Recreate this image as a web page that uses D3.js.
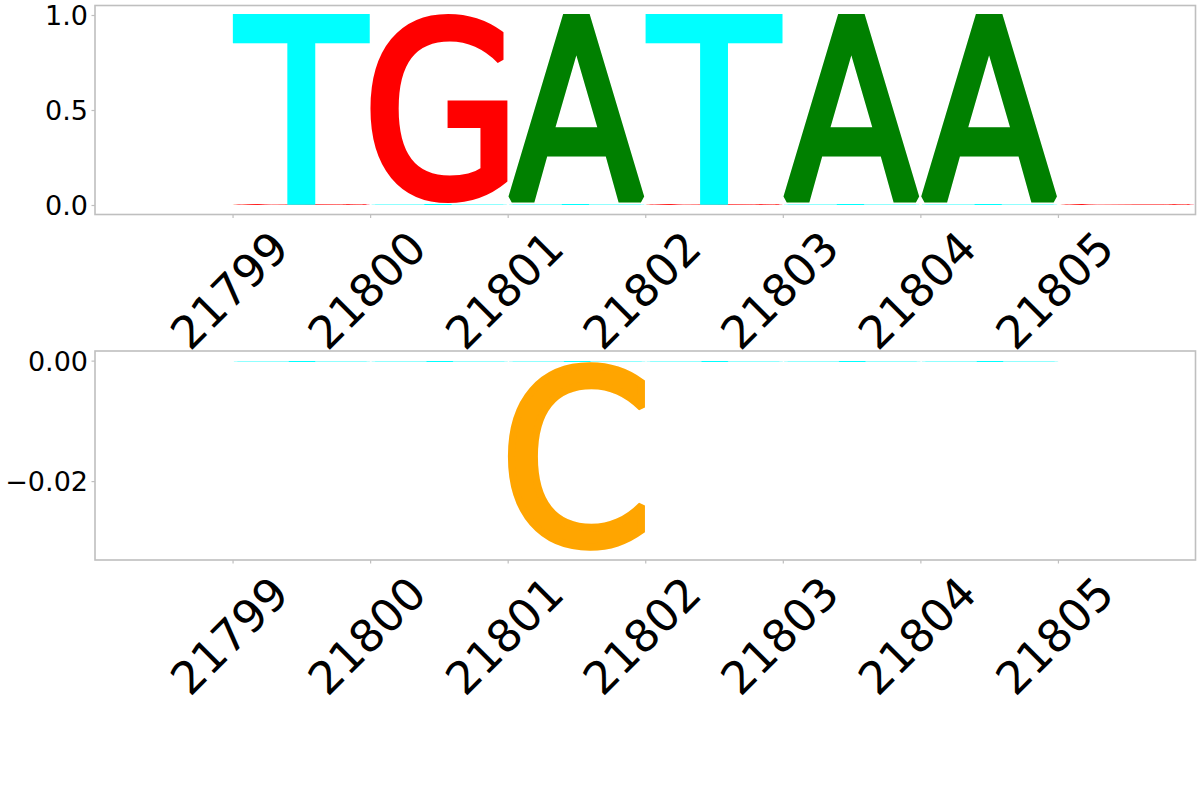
<!DOCTYPE html>
<html>
<head>
<meta charset="utf-8">
<script src="https://cdn.jsdelivr.net/npm/d3@7"></script>
<style>
  html, body { margin: 0; padding: 0; background: #fff; }
  svg { display: block; }
</style>
</head>
<body>
<svg id="chart" width="1200" height="800"></svg>
<script>
// ---- data ----
const positions = [21799, 21800, 21801, 21802, 21803, 21804, 21805];
const letters = ["A", "C", "G", "T"];
const letterColors = ["#008000", "#ffa500", "#ff0000", "#00ffff"];

// top panel (positive weights)
const topA = [0, 0, 1.0, 0, 1.0, 1.0, 0];
const topC = [0, 0, 0, 0, 0, 0, 0];
const topG = [0.005, 1.0, 0, 0.005, 0, 0, 0.003];
const topT = [1.0, 0.005, 0.005, 1.0, 0.005, 0.005, 0];

// bottom panel (negative weights)
const botA = [0, 0, 0, 0, 0, 0, 0];
const botC = [0, 0, -0.0315, 0, 0, 0, 0];
const botG = [-0.00008, -0.00008, -0.00008, -0.00008, -0.00008, -0.00008, -0.00008];
const botT = [-0.00012, -0.00012, -0.00012, -0.00012, -0.00012, -0.00012, 0];

const topYTicks = [0.0, 0.5, 1.0];
const botYTicks = [0.0, -0.02];
const xTickLabels = ["21799", "21800", "21801", "21802", "21803", "21804", "21805"];

// ---- layout ----
const svg = d3.select("#chart");
const W = 1200, H = 800;
svg.append("rect").attr("width", W).attr("height", H).attr("fill", "#fff");

const axL = 95, axR = 1195.5;
const panels = [
  { top: 5.5, bottom: 214.5, domain: [-0.05, 1.05], series: [topA, topC, topG, topT], ticks: topYTicks, fmt: d3.format(".1f") },
  { top: 351, bottom: 560, domain: [-0.0331, 0.0016], series: [botA, botC, botG, botT], ticks: botYTicks, fmt: d3.format(".2f") }
];

const x = d3.scaleLinear().domain([21798, 21806]).range([axL, axR]);

// glyph metrics
const cvs = document.createElement("canvas");
const ctx = cvs.getContext("2d");
const GFS = 200;
ctx.font = `${GFS}px "DejaVu Sans"`;
const metrics = {};
letters.forEach(ch => {
  const m = ctx.measureText(ch);
  metrics[ch] = { L: m.actualBoundingBoxLeft, R: m.actualBoundingBoxRight, A: m.actualBoundingBoxAscent, D: m.actualBoundingBoxDescent };
});

const THICK = 7; // extra stroke weight in screen px
function drawGlyph(g, ch, color, x0, x1, yTop, yBot) {
  const m = metrics[ch];
  const w = x1 - x0, h = yBot - yTop;
  if (!(h > 0)) return;
  const inkW = m.L + m.R, inkH = m.A + m.D;
  const sx = (w - THICK) / inkW;
  const s = THICK / sx;              // stroke width in glyph units
  const sy = h / (inkH + s);
  g.append("text")
    .text(ch)
    .attr("font-family", "DejaVu Sans")
    .attr("font-size", GFS)
    .attr("fill", color)
    .attr("stroke", color)
    .attr("stroke-width", s)
    .attr("stroke-linejoin", "miter")
    .attr("stroke-miterlimit", 1.5)
    .attr("transform", `translate(${x0},${yTop}) scale(${sx},${sy}) translate(${m.L + s / 2},${m.A + s / 2})`);
}

panels.forEach((p, pi) => {
  const y = d3.scaleLinear().domain(p.domain).range([p.bottom, p.top]);
  const g = svg.append("g");
  // background (covers overlapping labels from panel above)
  g.append("rect").attr("x", axL).attr("y", p.top).attr("width", axR - axL).attr("height", p.bottom - p.top).attr("fill", "#fff");

  const clipId = "clip" + pi;
  g.append("clipPath").attr("id", clipId).append("rect")
    .attr("x", axL).attr("y", p.top).attr("width", axR - axL).attr("height", p.bottom - p.top);
  const glyphs = g.append("g").attr("clip-path", `url(#${clipId})`);

  positions.forEach((pos, i) => {
    const vals = letters.map((ch, k) => ({ ch, color: letterColors[k], v: p.series[k][i] }));
    // positive: small at bottom, big on top
    const pos_ = vals.filter(d => d.v > 0).sort((a, b) => a.v - b.v);
    let acc = 0;
    pos_.forEach(d => {
      const y0 = acc, y1 = acc + d.v;
      drawGlyph(glyphs, d.ch, d.color, x(pos), x(pos + 1), y(y1), y(y0));
      acc = y1;
    });
    // negative: small nearest zero, big furthest
    const neg = vals.filter(d => d.v < 0).sort((a, b) => b.v - a.v);
    acc = 0;
    neg.forEach(d => {
      const y0 = acc, y1 = acc + d.v;
      drawGlyph(glyphs, d.ch, d.color, x(pos), x(pos + 1), y(y0), y(y1));
      acc = y1;
    });
  });

  // spines
  g.append("rect").attr("x", axL).attr("y", p.top).attr("width", axR - axL).attr("height", p.bottom - p.top)
    .attr("fill", "none").attr("stroke", "#bfbfbf").attr("stroke-width", 1.6);

  // y axis
  const yAxis = d3.axisLeft(y).tickValues(p.ticks).tickFormat(p.fmt).tickSize(3.5).tickPadding(3.5);
  const ya = g.append("g").attr("transform", `translate(${axL},0)`).call(yAxis);
  ya.select(".domain").remove();
  ya.selectAll(".tick line").attr("stroke", "#bfbfbf").attr("stroke-width", 1.2);
  ya.selectAll(".tick text").attr("font-family", "DejaVu Sans").attr("font-size", 27).attr("fill", "#000").attr("dy", "0.36em");

  // x axis
  const xAxis = d3.axisBottom(x).tickValues(positions).tickFormat((d, i) => xTickLabels[i]).tickSize(3.5).tickPadding(0);
  const xa = g.append("g").attr("transform", `translate(0,${p.bottom})`).call(xAxis);
  xa.select(".domain").remove();
  xa.selectAll(".tick line").attr("stroke", "#bfbfbf").attr("stroke-width", 1.2);
  xa.selectAll(".tick text")
    .attr("font-family", "DejaVu Sans").attr("font-size", 45).attr("fill", "#000")
    .attr("text-anchor", "middle").attr("dy", null).attr("y", null)
    .attr("dominant-baseline", "central")
    .attr("transform", "translate(-3.5,76) rotate(-45)");
});
</script>
</body>
</html>
